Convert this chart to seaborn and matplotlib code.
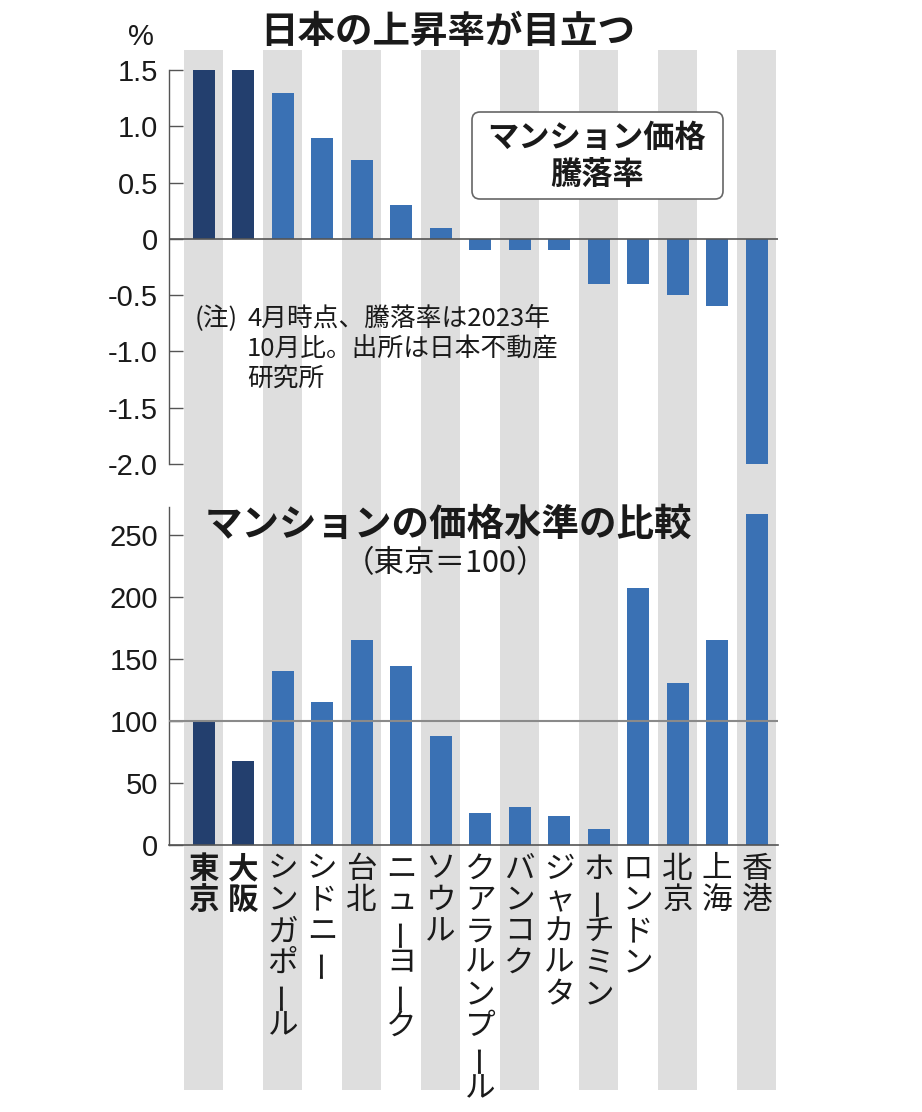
import matplotlib
matplotlib.use("Agg")
import matplotlib.pyplot as plt
import matplotlib.transforms as mtrans
from matplotlib import font_manager
from matplotlib.patches import FancyBboxPatch
import seaborn as sns
import pandas as pd

# Data
cities = ["東京", "大阪", "シンガポール", "シドニー", "台北", "ニューヨーク", "ソウル",
          "クアラルンプール", "バンコク", "ジャカルタ", "ホーチミン", "ロンドン",
          "北京", "上海", "香港"]
change_pct = [1.5, 1.5, 1.3, 0.9, 0.7, 0.3, 0.1, -0.1, -0.1, -0.1, -0.4, -0.4, -0.5, -0.6, -2.0]
price_level = [100, 68, 140, 115, 165, 144, 88, 26, 31, 23, 13, 207, 131, 165, 267]
japan = ["東京", "大阪"]
pct_ticks = [1.5, 1.0, 0.5, 0, -0.5, -1.0, -1.5, -2.0]
pct_labels = ["1.5", "1.0", "0.5", "0", "-0.5", "-1.0", "-1.5", "-2.0"]
level_ticks = [0, 50, 100, 150, 200, 250]

# Colours
DARK = "#233f6e"
BLUE = "#3a71b4"
STRIPE = "#dedede"
AXIS = "#555555"
TXT = "#1a1a1a"

plt.rcParams['font.family'] = ['Noto Sans CJK JP', 'DejaVu Sans']
names = {f.name for f in font_manager.fontManager.ttflist}
if "Liberation Sans Narrow" in names:
    NUM_FONT, NUM_SIZE = "Liberation Sans Narrow", 23
else:
    NUM_FONT, NUM_SIZE = "Liberation Sans", 21

df = pd.DataFrame({"city": cities, "change": change_pct, "level": price_level})
df["group"] = ["jp" if c in japan else "other" for c in cities]
pal = {"jp": DARK, "other": BLUE}

W, H = 922, 1112
fig = plt.figure(figsize=(W / 100, H / 100), dpi=100)


def px_rect(left, top, right, bottom):
    return [left / W, 1 - bottom / H, (right - left) / W, (bottom - top) / H]


XLIM = (-0.88, 14.54)

# background stripes running through both panels and the labels
ax_bg = fig.add_axes(px_rect(169, 50, 778, 1090), zorder=0)
for i in range(0, len(cities), 2):
    ax_bg.axvspan(i - 0.49, i + 0.49, color=STRIPE, lw=0)
ax_bg.set_xlim(XLIM)
ax_bg.set_ylim(0, 1)
ax_bg.axis("off")

ax1 = fig.add_axes(px_rect(169, 70, 778, 464), zorder=1)
ax2 = fig.add_axes(px_rect(169, 507, 778, 845), zorder=1)

sns.barplot(data=df, x="city", y="change", hue="group", palette=pal, order=cities,
            dodge=False, width=0.565, linewidth=0, saturation=1, legend=False, ax=ax1)
sns.barplot(data=df, x="city", y="level", hue="group", palette=pal, order=cities,
            dodge=False, width=0.565, linewidth=0, saturation=1, legend=False, ax=ax2)

for ax in (ax1, ax2):
    ax.patch.set_alpha(0)
    ax.set_xlim(XLIM)
    ax.set_xlabel("")
    ax.set_ylabel("")
    ax.grid(False)
    for s in ("top", "right"):
        ax.spines[s].set_visible(False)
    ax.spines["left"].set_color(AXIS)
    ax.spines["left"].set_linewidth(1.0)
    ax.tick_params(axis="x", bottom=False, labelbottom=False)
    ax.tick_params(axis="y", direction="in", length=10, width=1.0, color=AXIS,
                   pad=8, labelsize=NUM_SIZE, labelcolor=TXT)

ax1.spines["bottom"].set_visible(False)
ax1.set_ylim(-2.0, 1.5)
ax1.set_yticks(pct_ticks, labels=pct_labels)
ax1.axhline(0, color=AXIS, lw=1.2, zorder=3)

ax2.spines["bottom"].set_color(AXIS)
ax2.spines["bottom"].set_linewidth(1.2)
ax2.set_ylim(0, 272.6)
ax2.set_yticks(level_ticks, labels=[str(v) for v in level_ticks])
ax2.axhline(100, color="#8a8a8a", lw=1.5, zorder=3)

for ax in (ax1, ax2):
    for lab in ax.get_yticklabels():
        lab.set_fontfamily(NUM_FONT)

# titles and notes
fig.text(141 / W, 1 - 37 / H, "%", ha="center", va="center", fontsize=NUM_SIZE,
         family=NUM_FONT, color=TXT)
fig.text(448 / W, 1 - 31 / H, "日本の上昇率が目立つ", ha="center", va="center",
         fontsize=27, fontweight="bold", color=TXT)

box = FancyBboxPatch((4.72, (H - 199) / 100), 2.51, 0.87,
                     boxstyle="round,pad=0,rounding_size=0.08",
                     transform=fig.dpi_scale_trans, fc="white", ec="#666666", lw=1.2,
                     zorder=5)
fig.patches.append(box)
fig.text(597 / W, 1 - 138 / H, "マンション価格", ha="center", va="center",
         fontsize=22.5, fontweight="bold", color=TXT, zorder=6)
fig.text(597 / W, 1 - 175 / H, "騰落率", ha="center", va="center",
         fontsize=22.5, fontweight="bold", color=TXT, zorder=6)

fig.text(195 / W, 1 - 319 / H, "(注)", ha="left", va="center", fontsize=18.5, color=TXT)
note_lines = ["4月時点、騰落率は2023年", "10月比。出所は日本不動産", "研究所"]
for k, line in enumerate(note_lines):
    fig.text(247 / W, 1 - (319 + 30 * k) / H, line, ha="left", va="center",
             fontsize=18.5, color=TXT)

fig.text(448 / W, 1 - 524 / H, "マンションの価格水準の比較", ha="center", va="center",
         fontsize=27, fontweight="bold", color=TXT)
fig.text(445 / W, 1 - 564 / H, "（東京＝100）", ha="center", va="center",
         fontsize=22, color=TXT)

# vertical city labels, one character per row
lab_tr = mtrans.blended_transform_factory(ax2.transData, fig.transFigure)
for i, city in enumerate(cities):
    for j, ch in enumerate(city):
        ax2.text(i, 1 - (869 + j * 31.4) / H, ch, transform=lab_tr,
                 ha="center", va="center", fontsize=22, color=TXT,
                 rotation=90 if ch == "ー" else 0,
                 fontweight="bold" if city in japan else "normal", clip_on=False)

fig.savefig("out.png", dpi=100)
